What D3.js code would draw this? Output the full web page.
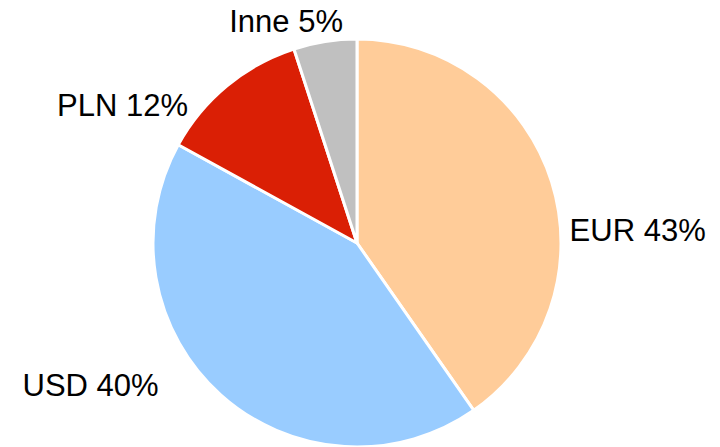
<!DOCTYPE html>
<html><head><meta charset="utf-8">
<script src="https://cdn.jsdelivr.net/npm/d3@7"></script>
<style>html,body{margin:0;padding:0;background:#fff;overflow:hidden}</style>
</head><body>
<svg id="c" width="720" height="447"></svg>
<script>
const categories = ["EUR", "USD", "PLN", "Inne"];
// slice sizes as drawn in the picture
const values = [40.3, 42.7, 12.0, 5.0];
// percentages as printed in the labels
const labelPercents = [43, 40, 12, 5];
const colors = ["#FFCC99", "#99CCFF", "#DA1F05", "#C0C0C0"];
// label placement relative to the slice's outer mid-point (layout only)
const labelLayout = [
  {anchor: "start", dx: 18, dy: 59},
  {anchor: "end", dx: -62, dy: 1},
  {anchor: "end", dx: -39, dy: 30},
  {anchor: "middle", dx: -39, dy: -9.5}
];

const svg = d3.select("#c");
const cx = 357, cy = 243, r = 204;
const g = svg.append("g").attr("transform", `translate(${cx},${cy})`);
const data = categories.map((c, i) => ({cat: c, value: values[i], label: labelPercents[i], i}));
const pie = d3.pie().value(d => d.value).sort(null);
const arc = d3.arc().innerRadius(0).outerRadius(r);
const edge = d3.arc().innerRadius(r).outerRadius(r);
const arcs = pie(data);
g.selectAll("path").data(arcs).join("path")
  .attr("d", arc)
  .attr("fill", d => colors[d.data.i])
  .attr("stroke", "#fff")
  .attr("stroke-width", 3)
  .attr("stroke-linejoin", "round");
g.selectAll("text").data(arcs).join("text")
  .attr("x", d => edge.centroid(d)[0] + labelLayout[d.data.i].dx)
  .attr("y", d => edge.centroid(d)[1] + labelLayout[d.data.i].dy)
  .attr("text-anchor", d => labelLayout[d.data.i].anchor)
  .attr("font-family", "Liberation Sans, Arial, sans-serif")
  .attr("font-size", 31)
  .attr("fill", "#000")
  .text(d => `${d.data.cat} ${d.data.label}%`);
</script>
</body></html>
